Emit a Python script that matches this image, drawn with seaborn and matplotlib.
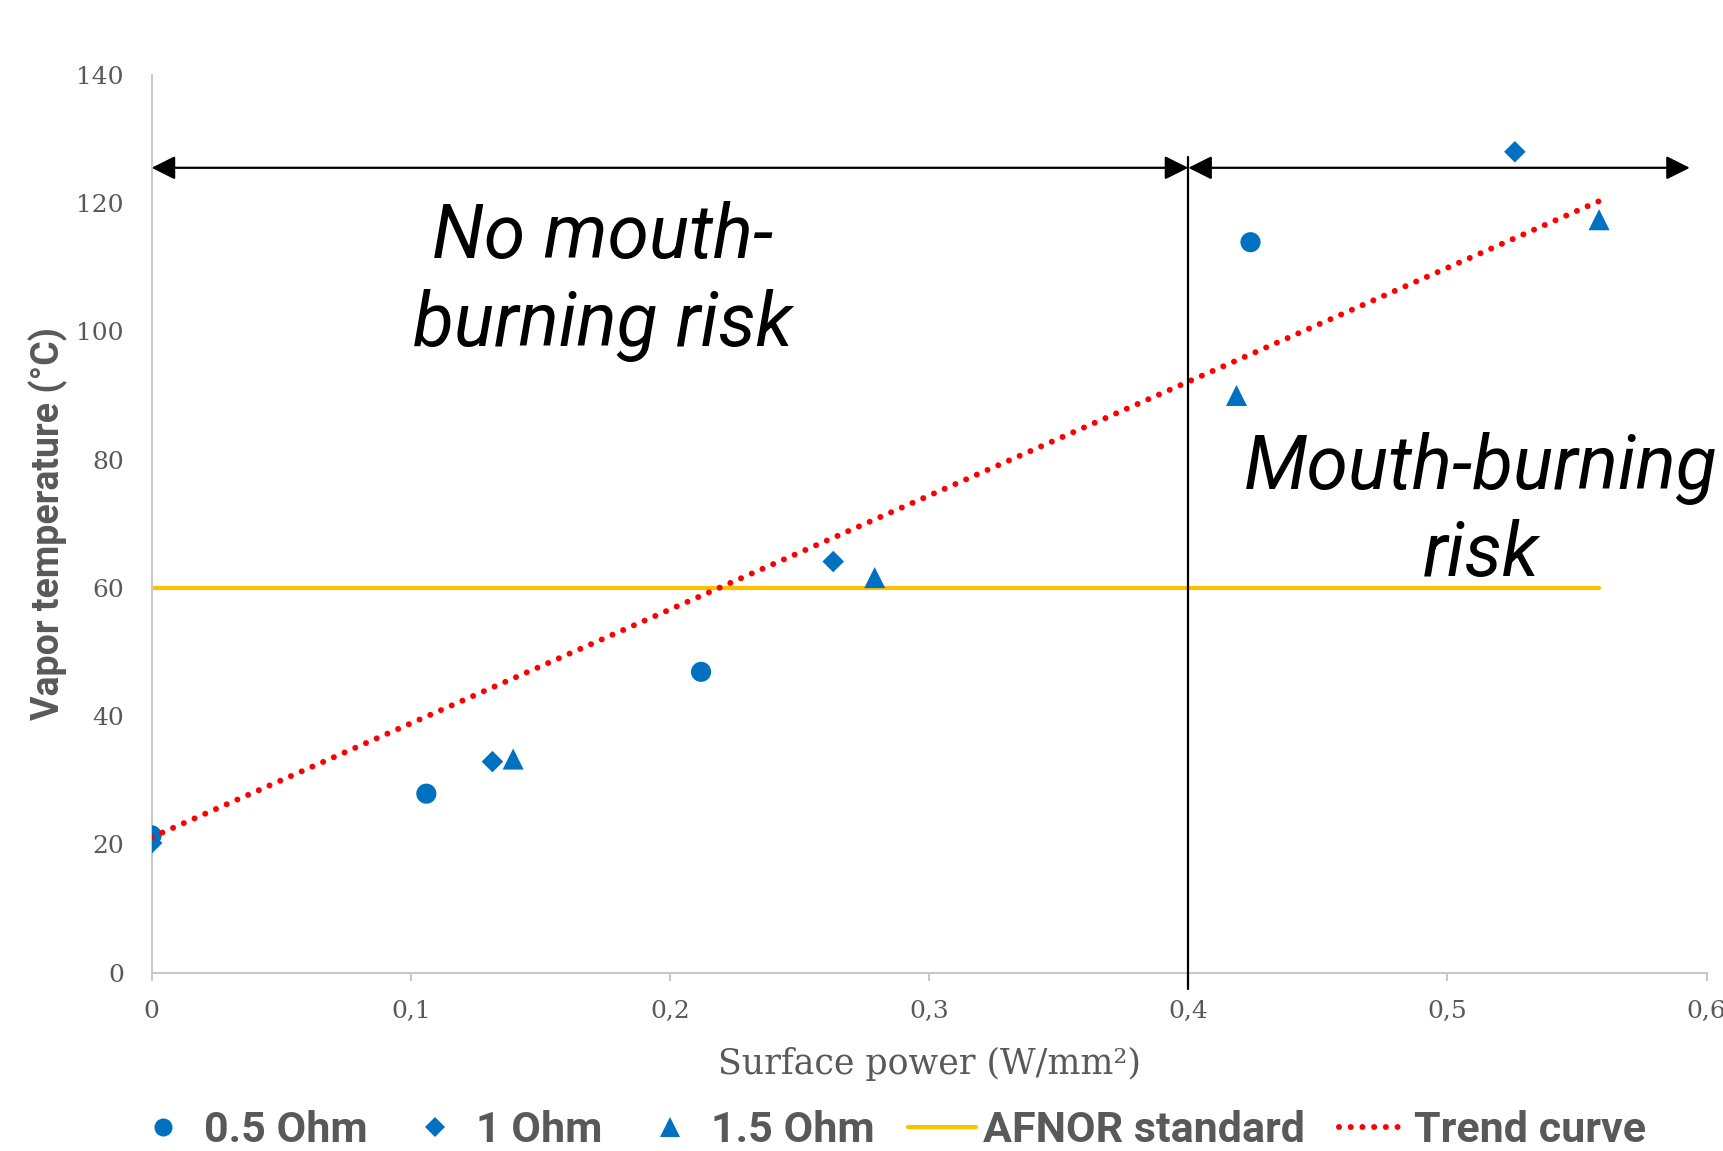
import matplotlib
matplotlib.use("Agg")
import matplotlib.pyplot as plt
from matplotlib.lines import Line2D
from matplotlib.patches import FancyArrowPatch
import seaborn as sns
import pandas as pd

# ---- data ----
x_05 = [0.0, 0.106, 0.212, 0.424]
y_05 = [21.4, 27.9, 46.9, 113.9]
x_10 = [0.0, 0.1315, 0.263, 0.526]
y_10 = [20.2, 32.9, 64.1, 128.0]
x_15 = [0.1395, 0.279, 0.4186, 0.5585]
y_15 = [33.3, 61.6, 90.0, 117.4]
series_names = ["0.5 Ohm", "1 Ohm", "1.5 Ohm"]
afnor_x = [0.0, 0.5585]
afnor_y = [60, 60]
trend_x = [0.0, 0.5585]
trend_y = [21.1, 120.3]
threshold_x = 0.4
xticks = [0, 0.1, 0.2, 0.3, 0.4, 0.5, 0.6]
xtick_labels = ["0", "0,1", "0,2", "0,3", "0,4", "0,5", "0,6"]
yticks = [0, 20, 40, 60, 80, 100, 120, 140]

sns.set_theme(style="white")
plt.rcParams['font.family'] = ['DejaVu Sans']

df = pd.DataFrame({
    "x": x_05 + x_10 + x_15,
    "y": y_05 + y_10 + y_15,
    "series": [series_names[0]] * len(x_05) + [series_names[1]] * len(x_10) + [series_names[2]] * len(x_15),
})

BLUE = "#0070C0"
GRAY = "#595959"
fig = plt.figure(figsize=(17.23, 11.51), dpi=100)
ax = fig.add_axes([0.088, 0.155, 0.9025, 0.78])

# lines
sns.lineplot(x=afnor_x, y=afnor_y, ax=ax, color="#FFC000", linewidth=3.0, zorder=2)
sns.lineplot(x=trend_x, y=trend_y, ax=ax, color="#FF0000", linewidth=4.3, zorder=4)
ax.lines[-1].set_linestyle((0, (0.01, 1.95)))
ax.lines[-1].set_dash_capstyle("round")

markers = {"0.5 Ohm": "o", "1 Ohm": "D", "1.5 Ohm": "^"}
sizes_map = {"0.5 Ohm": 210, "1 Ohm": 120, "1.5 Ohm": 230}
for name in series_names:
    sub = df[df.series == name]
    sns.scatterplot(data=sub, x="x", y="y", ax=ax, marker=markers[name], s=sizes_map[name],
                    color=BLUE, edgecolor="none", linewidth=0, zorder=3, legend=False)

ax.set_xlim(0, 0.6)
ax.set_ylim(0, 140)

# threshold vertical line
ax.plot([threshold_x, threshold_x], [127.2, -2.6], color="black", linewidth=1.6, clip_on=False, zorder=5)

# arrows
arrow_y = 125.5
for xa, xb in [(0.0, threshold_x), (threshold_x, 0.5935)]:
    arr = FancyArrowPatch((xa, arrow_y), (xb, arrow_y), arrowstyle="<|-|>,head_length=9,head_width=4.5",
                          mutation_scale=1.6, color="black", linewidth=1.6, clip_on=False, zorder=6,
                          shrinkA=0, shrinkB=0)
    ax.add_patch(arr)

# annotations
ax.text(0.174, 107.8, "No mouth-\nburning risk", fontsize=54, fontstyle="italic", family="Roboto",
        ha="center", va="center", linespacing=1.28, color="black")
ax.text(0.513, 71.9, "Mouth-burning\nrisk", fontsize=54, fontstyle="italic", family="Roboto",
        ha="center", va="center", linespacing=1.25, color="black", clip_on=False)

# axes styling
for s in ["top", "right"]:
    ax.spines[s].set_visible(False)
for s in ["left", "bottom"]:
    ax.spines[s].set_color("#C8C8C8")
    ax.spines[s].set_linewidth(1.5)
ax.set_xticks(xticks)
ax.set_xticklabels(xtick_labels)
ax.set_yticks(yticks)
ax.set_yticklabels([str(v) for v in yticks])
ax.tick_params(axis="x", length=6, width=1.5, color="#C8C8C8", pad=14, labelsize=18, labelcolor=GRAY, bottom=True)
ax.tick_params(axis="y", length=0, pad=20, labelsize=18, labelcolor=GRAY, left=False)
for lab in ax.get_xticklabels() + ax.get_yticklabels():
    lab.set_family("DejaVu Serif")
ax.grid(False)

ax.set_xlabel("Surface power (W/mm²)", family="DejaVu Serif", fontsize=25, color=GRAY, labelpad=17)
ax.set_ylabel("Vapor temperature (°C)", family="Roboto", fontweight="bold", fontsize=27, color=GRAY)
ax.yaxis.set_label_coords(-0.0535, 0.5)

# legend
handles = [
    Line2D([], [], marker="o", linestyle="none", color=BLUE, markersize=13, markeredgewidth=0),
    Line2D([], [], marker="D", linestyle="none", color=BLUE, markersize=10, markeredgewidth=0),
    Line2D([], [], marker="^", linestyle="none", color=BLUE, markersize=14, markeredgewidth=0),
    Line2D([], [], color="#FFC000", linewidth=3.0),
    Line2D([], [], color="#FF0000", linewidth=4.3, linestyle=(0, (0.01, 1.95)), dash_capstyle="round"),
]
labels = series_names + ["AFNOR standard", "Trend curve"]
leg = fig.legend(handles, labels, loc="center", bbox_to_anchor=(0.515, 0.018), ncol=5, frameon=False,
                 prop={"family": "Roboto", "weight": "bold", "size": 31},
                 handlelength=1.58, handletextpad=0.16, columnspacing=0.78)
for t in leg.get_texts():
    t.set_color(GRAY)

fig.savefig("out.png", dpi=100)
